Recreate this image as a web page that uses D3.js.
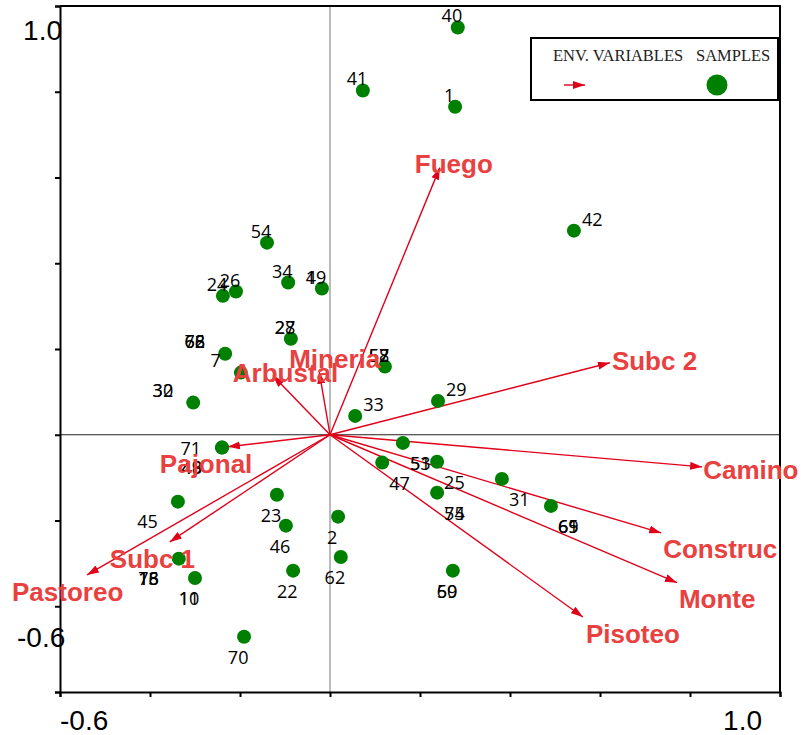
<!DOCTYPE html>
<html>
<head>
<meta charset="utf-8">
<script src="https://cdn.jsdelivr.net/npm/d3@7"></script>
<style>
  body { margin: 0; background: #fff; }
</style>
</head>
<body>
<svg id="biplot" width="801" height="735"></svg>
<script>
// sample scores (axis 1, axis 2); "a/b" = samples drawn on the same spot
var sampleNames = ["40", "1", "41", "42", "54", "34", "4/19", "24", "26", "28/27",
  "72/66/68", "7", "30/32", "71", "48/49", "45", "23", "46", "2", "62",
  "22", "70", "73/18/16", "10/11", "52/57/58", "33", "29", "53/51", "47", "25",
  "74/55", "31", "61/65/69", "59/60"];
var sampleAx1 = [0.284, 0.278, 0.073, 0.542, -0.140, -0.093, -0.018, -0.238, -0.209, -0.087,
  -0.233, -0.198, -0.304, -0.240, -0.240, -0.338, -0.118, -0.098, 0.018, 0.024,
  -0.082, -0.191, -0.336, -0.300, 0.122, 0.056, 0.240, 0.162, 0.116, 0.238,
  0.238, 0.382, 0.491, 0.273];
var sampleAx2 = [0.950, 0.765, 0.803, 0.476, 0.448, 0.355, 0.341, 0.324, 0.334, 0.224,
  0.189, 0.145, 0.075, -0.030, -0.030, -0.156, -0.140, -0.212, -0.191, -0.285,
  -0.317, -0.471, -0.289, -0.334, 0.159, 0.044, 0.079, -0.019, -0.065, -0.063,
  -0.135, -0.103, -0.166, -0.317];
// where the label sits relative to the dot
var sampleLabelSide = ["nw", "nw", "nw", "ne", "nw", "nw", "nw", "nw", "nw", "nw",
  "wn", "wn", "wn", "w", "sw", "sw", "s", "s", "s", "s",
  "s", "s", "sw", "s", "nw", "ne", "ne", "se", "se", "se",
  "se", "se", "se", "s"];

// environmental variables (arrow tips)
var envNames = ["Fuego", "Subc 2", "Camino", "Construc", "Monte", "Pisoteo",
  "Pastoreo", "Subc 1", "Pajonal", "Arbustal", "Mineria"];
var envAx1 = [0.244, 0.622, 0.827, 0.736, 0.771, 0.562, -0.540, -0.356, -0.227, -0.127, -0.024];
var envAx2 = [0.623, 0.168, -0.075, -0.229, -0.345, -0.425, -0.327, -0.250, -0.028, 0.138, 0.147];

var svg = d3.select("#biplot");
var plotL = 60, plotR = 780, plotT = 6, plotB = 692;

var x = d3.scaleLinear().domain([-0.6, 1.0]).range([plotL, plotR]);
var y = d3.scaleLinear().domain([-0.6, 1.0]).range([plotB, plotT]);

var arrowRed = "#e1001a", textRed = "#e8413f";

svg.append("defs").append("marker")
    .attr("id", "head")
    .attr("viewBox", "0 0 12 8")
    .attr("refX", 12).attr("refY", 4)
    .attr("markerWidth", 12).attr("markerHeight", 8)
    .attr("markerUnits", "userSpaceOnUse")
    .attr("orient", "auto")
  .append("path")
    .attr("d", "M0,0L12,4L0,8Z")
    .attr("fill", arrowRed);

// zero lines
svg.append("line")
    .attr("x1", plotL).attr("x2", plotR)
    .attr("y1", y(0)).attr("y2", y(0))
    .attr("stroke", "#222").attr("stroke-width", 1);
svg.append("line")
    .attr("x1", x(0)).attr("x2", x(0))
    .attr("y1", plotT).attr("y2", plotB)
    .attr("stroke", "#777").attr("stroke-width", 1);

// axes
var ticks = d3.range(-0.6, 1.01, 0.2);
svg.append("g")
    .attr("transform", "translate(" + plotL + ",0)")
    .call(d3.axisLeft(y).tickValues(ticks).tickSize(5).tickFormat(""))
    .call(function(g) { g.selectAll("line, path").attr("stroke", "#000").attr("stroke-width", 2); });
svg.append("g")
    .attr("transform", "translate(0," + plotB + ")")
    .call(d3.axisBottom(x).tickValues(ticks).tickSize(5).tickFormat(""))
    .call(function(g) { g.selectAll("line, path").attr("stroke", "#000").attr("stroke-width", 2); });
// top and right frame
svg.append("path")
    .attr("d", "M" + plotL + "," + plotT + "H" + plotR + "V" + plotB)
    .attr("fill", "none").attr("stroke", "#000").attr("stroke-width", 2);

var tickFont = "'Liberation Sans', Arial, sans-serif";
svg.append("text").text("1.0")
    .attr("x", plotL + 2).attr("y", y(1.0) + 34)
    .attr("text-anchor", "end")
    .style("font-family", tickFont).style("font-size", "28px");
svg.append("text").text("-0.6")
    .attr("x", 17).attr("y", y(-0.6) - 45)
    .style("font-family", tickFont).style("font-size", "28px");
svg.append("text").text("-0.6")
    .attr("x", x(-0.6)).attr("y", 730)
    .style("font-family", tickFont).style("font-size", "28px");
svg.append("text").text("1.0")
    .attr("x", x(1.0) - 18).attr("y", 730)
    .attr("text-anchor", "end")
    .style("font-family", tickFont).style("font-size", "28px");

// env arrows
var env = envNames.map(function(n, i) { return { name: n, a1: envAx1[i], a2: envAx2[i] }; });
svg.append("g").selectAll("line")
    .data(env)
    .enter().append("line")
    .attr("x1", x(0)).attr("y1", y(0))
    .attr("x2", function(d) { return x(d.a1); })
    .attr("y2", function(d) { return y(d.a2); })
    .attr("stroke", arrowRed).attr("stroke-width", 1.4)
    .attr("marker-end", "url(#head)");

// samples
var charW = 10.2;
var samples = sampleNames.map(function(n, i) {
  return { names: n.split("/"), a1: sampleAx1[i], a2: sampleAx2[i], side: sampleLabelSide[i] };
});

svg.append("g").selectAll("circle")
    .data(samples)
    .enter().append("circle")
    .attr("cx", function(d) { return x(d.a1); })
    .attr("cy", function(d) { return y(d.a2); })
    .attr("r", 7)
    .attr("fill", "#008000");

// label offsets for each side: anchor, dx (centre for start-anchored), baseline dy
var sides = {
  nw: ["start", -6, -5],
  ne: ["start", 8, -5],
  se: ["start", 7, 27],
  s:  ["start", -6, 27],
  w:  ["end", -21, 7],
  wn: ["end", -20, -6],
  sw: ["end", -20, 26]
};

var labelG = svg.append("g")
    .style("font-family", "'Open Sans', 'Noto Sans', sans-serif")
    .style("font-size", "18px")
    .attr("fill", "#000");
samples.forEach(function(d) {
  var s = sides[d.side];
  var cx = x(d.a1), cy = y(d.a2);
  var maxLen = d3.max(d.names, function(n) { return n.length; });
  var lx = cx + s[1];
  if (s[0] === "start" && (d.side === "nw" || d.side === "s")) lx = cx + s[1] - maxLen * charW / 2;
  d.names.forEach(function(n) {
    labelG.append("text")
        .attr("x", lx).attr("y", cy + s[2])
        .attr("text-anchor", s[0])
        .text(n);
  });
});

// env labels, placed relative to the arrow tip
var envLabelOffset = {
  "Fuego": [-25, 5], "Subc 2": [2, 7], "Camino": [1, 12], "Construc": [2, 25],
  "Monte": [2, 25], "Pisoteo": [3, 26], "Pastoreo": [-75, 26], "Subc 1": [-60, 26],
  "Pajonal": [-68, 26], "Arbustal": [-40, 6], "Mineria": [-30, -4]
};
svg.append("g").selectAll("text")
    .data(env)
    .enter().append("text")
    .attr("x", function(d) { return x(d.a1) + envLabelOffset[d.name][0]; })
    .attr("y", function(d) { return y(d.a2) + envLabelOffset[d.name][1]; })
    .text(function(d) { return d.name; })
    .attr("fill", textRed)
    .style("font-family", tickFont)
    .style("font-weight", "bold")
    .style("font-size", "26px");

// legend
var lg = svg.append("g");
lg.append("rect")
    .attr("x", 531).attr("y", 38).attr("width", 247).attr("height", 62)
    .attr("fill", "#fff").attr("stroke", "#000").attr("stroke-width", 2);
lg.append("text").text("ENV. VARIABLES")
    .attr("x", 553).attr("y", 61)
    .style("font-family", "'Liberation Serif', 'Times New Roman', serif")
    .style("font-size", "16.5px").attr("fill", "#222");
lg.append("text").text("SAMPLES")
    .attr("x", 696).attr("y", 61)
    .style("font-family", "'Liberation Serif', 'Times New Roman', serif")
    .style("font-size", "16.5px").attr("fill", "#222");
lg.append("line")
    .attr("x1", 564).attr("y1", 85).attr("x2", 585).attr("y2", 85)
    .attr("stroke", arrowRed).attr("stroke-width", 1.4)
    .attr("marker-end", "url(#head)");
lg.append("circle")
    .attr("cx", 717).attr("cy", 85).attr("r", 10.5)
    .attr("fill", "#008000");
</script>
</body>
</html>
